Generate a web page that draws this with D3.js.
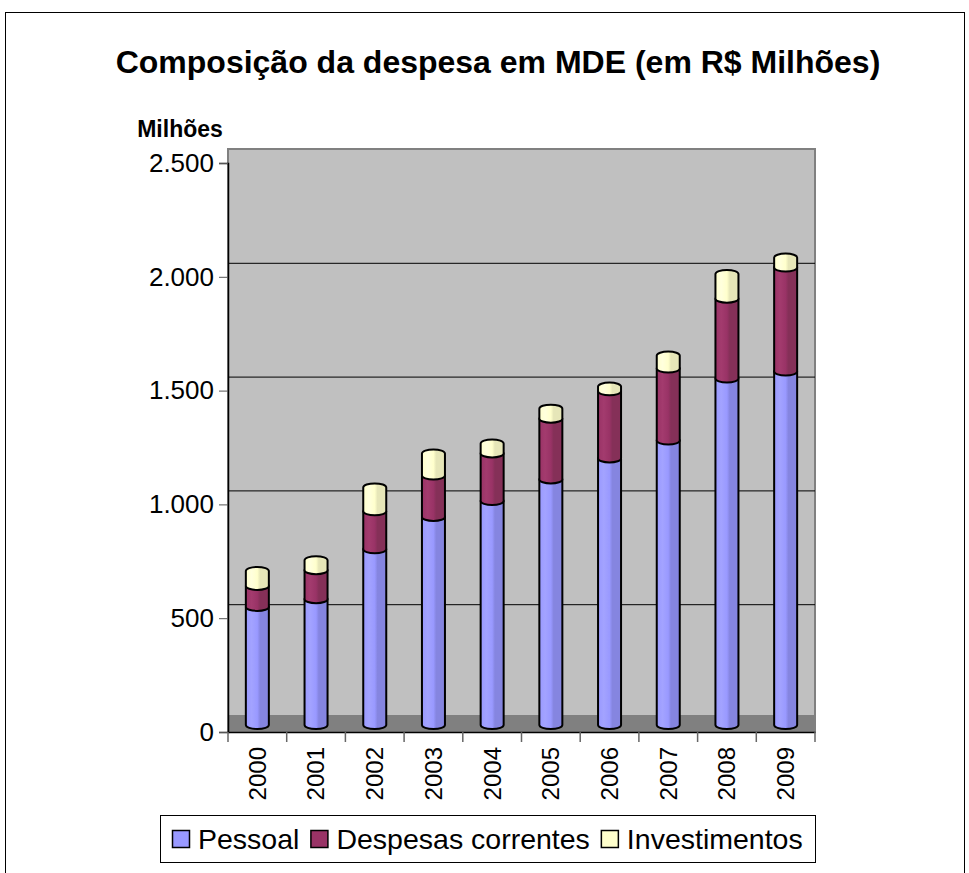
<!DOCTYPE html>
<html>
<head>
<meta charset="utf-8">
<script src="https://cdn.jsdelivr.net/npm/d3@7"></script>
<style>
  body { margin: 0; background: #fff; }
  text { font-family: "Liberation Sans", Arial, sans-serif; }
</style>
</head>
<body>
<div id="chart"></div>
<script>
// values (R$ milhoes)
var years = ["2000","2001","2002","2003","2004","2005","2006","2007","2008","2009"]
var pessoal = [519, 553, 772, 914, 984, 1079, 1171, 1250, 1522, 1553]
var despesas = [92, 127, 167, 182, 209, 267, 295, 316, 351, 457]
var investimentos = [66, 44, 105, 97, 44, 44, 21, 57, 109, 44]
var seriesNames = ["Pessoal", "Despesas correntes", "Investimentos"]
var yTicks = [0, 500, 1000, 1500, 2000, 2500]

var colors = ["#9999FF", "#993366", "#FFFFCC"]
var darker = ["#8585E0", "#853058", "#E6E6B8"]
var lighter = ["#A3A3FF", "#A33B6E", "#FFFFDD"]
var capColor = "#C8C8A6"

var W = 969, H = 873
var svg = d3.select("#chart").append("svg").attr("width", W).attr("height", H)

// outer border
svg.append("rect").attr("x", 5.5).attr("y", 12.5).attr("width", 959).attr("height", 880)
  .attr("fill", "#fff").attr("stroke", "#000").attr("stroke-width", 1)

svg.append("text").text("Composição da despesa em MDE (em R$ Milhões)")
  .attr("x", 498).attr("y", 73).attr("text-anchor", "middle")
  .style("font-size", "32px").style("font-weight", "bold")

svg.append("text").text("Milhões")
  .attr("x", 180).attr("y", 137).attr("text-anchor", "middle")
  .style("font-size", "23px").style("font-weight", "bold")

var plot = {left: 228, right: 815, top: 163, bottom: 732}
var depth = 14     // back wall offset
var floorH = 17
var mid = 7        // cylinders stand at middle depth

var x = d3.scaleBand().domain(years).range([plot.left, plot.right])
var y = d3.scaleLinear().domain([0, 2500]).range([plot.bottom, plot.top])

// back wall
svg.append("rect")
  .attr("x", plot.left).attr("y", y(2500) - depth)
  .attr("width", plot.right - plot.left).attr("height", plot.bottom - (y(2500) - depth))
  .attr("fill", "#C0C0C0").attr("stroke", "#808080").attr("stroke-width", 2)

svg.append("g").selectAll("line").data(yTicks.filter(d => d > 0 && d < 2500))
  .enter().append("line")
  .attr("x1", plot.left).attr("x2", plot.right)
  .attr("y1", d => y(d) - depth + 0.5).attr("y2", d => y(d) - depth + 0.5)
  .attr("stroke", "#000").attr("stroke-width", 1)

// floor
svg.append("rect")
  .attr("x", plot.left).attr("y", plot.bottom - floorH)
  .attr("width", plot.right - plot.left).attr("height", floorH)
  .attr("fill", "#808080")

// gradients for the cylinder sides
var defs = svg.append("defs")
colors.forEach(function(c, i) {
  var g = defs.append("linearGradient").attr("id", "grad" + i)
    .attr("x1", 0).attr("x2", 1).attr("y1", 0).attr("y2", 0)
  g.append("stop").attr("offset", "0%").attr("stop-color", c)
  g.append("stop").attr("offset", "25%").attr("stop-color", lighter[i])
  g.append("stop").attr("offset", "50%").attr("stop-color", c)
  g.append("stop").attr("offset", "62%").attr("stop-color", darker[i])
  g.append("stop").attr("offset", "100%").attr("stop-color", darker[i])
})

// stack data
var table = years.map(function(yr, i) {
  return {year: yr, Pessoal: pessoal[i], "Despesas correntes": despesas[i], Investimentos: investimentos[i]}
})
var stacked = d3.stack().keys(seriesNames)(table)

var rx = 11.5, ry = 4
function segPath(cx, yb, yt) {
  return "M" + (cx - rx) + "," + yt +
    "L" + (cx - rx) + "," + yb +
    "A" + rx + "," + ry + " 0 0 0 " + (cx + rx) + "," + yb +
    "L" + (cx + rx) + "," + yt +
    "A" + rx + "," + ry + " 0 0 0 " + (cx - rx) + "," + yt + "Z"
}

var bars = svg.append("g")
stacked.forEach(function(layer, si) {
  bars.append("g").selectAll("path").data(layer).enter().append("path")
    .attr("d", d => segPath(x(d.data.year) + x.bandwidth() / 2, y(d[0]) - mid, y(d[1]) - mid))
    .attr("fill", "url(#grad" + si + ")")
    .attr("stroke", "#000").attr("stroke-width", 2).attr("stroke-linejoin", "round")
})

// top caps
var top = stacked[stacked.length - 1]
bars.append("g").selectAll("ellipse").data(top).enter().append("ellipse")
  .attr("cx", d => x(d.data.year) + x.bandwidth() / 2)
  .attr("cy", d => y(d[1]) - mid)
  .attr("rx", rx).attr("ry", ry)
  .attr("fill", capColor).attr("stroke", "#000").attr("stroke-width", 2)

// axes
var ptBR = d3.formatLocale({decimal: ",", thousands: ".", grouping: [3], currency: ["R$", ""]})
var yAxis = d3.axisLeft(y).tickValues(yTicks).tickFormat(ptBR.format(",d")).tickSize(9).tickPadding(5)
var gy = svg.append("g").attr("transform", "translate(" + plot.left + ",0)").call(yAxis)
gy.select(".domain").attr("stroke", "#000").attr("stroke-width", 1.5)
gy.selectAll(".tick line").attr("stroke", "#555")
gy.selectAll(".tick text").style("font-size", "26px").attr("fill", "#000")
  .style("font-family", "'Liberation Sans', Arial, sans-serif")

var xAxis = d3.axisBottom(x).tickSizeOuter(0).tickSize(0)
var gx = svg.append("g").attr("transform", "translate(0," + plot.bottom + ")").call(xAxis)
gx.select(".domain").attr("stroke", "#000").attr("stroke-width", 1.5)
gx.selectAll(".tick text").remove()
// category separators
svg.append("g").selectAll("line").data(years.concat(["end"])).enter().append("line")
  .attr("x1", (d, i) => plot.left + i * x.step()).attr("x2", (d, i) => plot.left + i * x.step())
  .attr("y1", plot.bottom).attr("y2", plot.bottom + 10)
  .attr("stroke", "#666").attr("stroke-width", 1.5)

svg.append("g").selectAll("text").data(years).enter().append("text")
  .text(d => d)
  .attr("transform", d => "translate(" + (x(d) + x.bandwidth() / 2) + "," + 747 + ") rotate(-90)")
  .attr("text-anchor", "end").attr("dy", "0.35em")
  .style("font-size", "24px")

// legend
var leg = svg.append("g")
leg.append("rect").attr("x", 160.5).attr("y", 815.5).attr("width", 655).attr("height", 47)
  .attr("fill", "#fff").attr("stroke", "#000").attr("stroke-width", 1)
var lx = 172
seriesNames.forEach(function(name, i) {
  leg.append("rect").attr("x", lx + 0.5).attr("y", 830.5).attr("width", 17).attr("height", 17)
    .attr("fill", colors[i]).attr("stroke", "#000").attr("stroke-width", 1.5)
  var t = leg.append("text").text(name).attr("x", lx + 26).attr("y", 849)
    .style("font-size", "28.5px")
  lx += 26 + t.node().getComputedTextLength() + 11
})
</script>
</body>
</html>
